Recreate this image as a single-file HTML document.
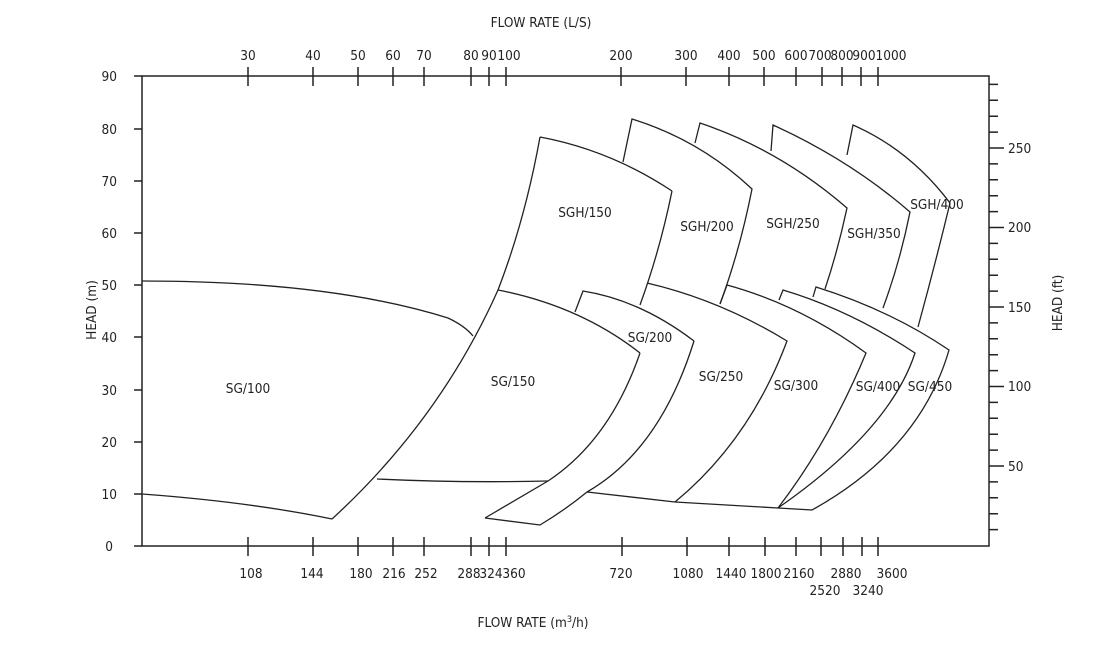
<!DOCTYPE html>
<html><head><style>
html,body{margin:0;padding:0;background:#fff;}
svg{display:block;}
text{font-family:"DejaVu Sans Condensed","Liberation Sans",sans-serif;font-size:13.5px;fill:#222;}
</style></head><body>
<svg width="1100" height="671" viewBox="0 0 1100 671" xmlns="http://www.w3.org/2000/svg">
<g stroke="#222" stroke-width="1.5" fill="none">
<rect x="142" y="76" width="847" height="470"/>
<path d="M134 76H142M134 129H142M134 181H142M134 233H142M134 285H142M134 337H142M134 390H142M134 442H142M134 494H142M134 546H142"/>
<path d="M248 67V86M313 67V86M358 67V86M393 67V86M424 67V86M471 67V86M489 67V86M506 67V86M621 67V86M686 67V86M729 67V86M764 67V86M796 67V86M822 67V86M842 67V86M861 67V86M878 67V86"/>
<path d="M248 537V556M313 537V556M358 537V556M393 537V556M424 537V556M471 537V556M489 537V556M506 537V556M622 537V556M687 537V556M729 537V556M765 537V556M796 537V556M821 537V556M843 537V556M862 537V556M878 537V556"/>
<path d="M989 84.4H998M989 100.3H998M989 116.2H998M989 132.1H998M989 148H1004M989 163.9H998M989 179.8H998M989 195.7H998M989 211.6H998M989 227.5H1004M989 243.4H998M989 259.3H998M989 275.2H998M989 291.1H998M989 307H1004M989 322.9H998M989 338.8H998M989 354.7H998M989 370.6H998M989 386.5H1004M989 402.4H998M989 418.3H998M989 434.2H998M989 450.1H998M989 466H1004M989 481.9H998M989 497.8H998M989 513.7H998M989 529.6H998"/>
</g>
<g stroke="#222" stroke-width="1.3" fill="none">
<path d="M142 281 Q330 281 448 318 Q465 326 473 336"/>
<path d="M142 494 Q250 502 332 519"/>
<path d="M332 519 Q440 420 498 290 Q525 220 540 137"/>
<path d="M540 137 Q610 150 672 191"/>
<path d="M672 191 Q660 250 640 305"/>
<path d="M498 290 Q580 306 640 353"/>
<path d="M640 353 Q610 440 548 481 L485 518"/>
<path d="M377 479 Q460 483 548 481"/>
<path d="M575 312 L583 291 Q640 300 694 341"/>
<path d="M694 341 Q660 450 587 492 Q565 510 540 525 L485 518"/>
<path d="M587 492 L675 502"/>
<path d="M623 162 L632 119 Q700 140 752 189 Q740 250 720 304"/>
<path d="M647 283 Q720 300 787 341 Q750 440 675 502"/>
<path d="M675 502 L778 508 L812 510"/>
<path d="M695 143 L700 123 Q780 150 847 208 Q838 250 825 289"/>
<path d="M720 304 L727 285 Q800 305 866 353 Q830 440 778 508"/>
<path d="M771 151 L773 125 Q850 160 910 212 Q900 262 883 308"/>
<path d="M779 300 L783 290 Q850 310 915 353 Q890 430 778 508"/>
<path d="M813 297 L816 287 Q890 310 949 350 Q920 450 812 510"/>
<path d="M847 155 L853 125 Q910 150 950 203 Q935 265 918 327"/>
</g>
<g text-anchor="end">
<text x="117" y="81">90</text><text x="117" y="134">80</text><text x="117" y="186">70</text><text x="117" y="238">60</text><text x="117" y="290">50</text><text x="117" y="342">40</text><text x="117" y="395">30</text><text x="117" y="447">20</text><text x="117" y="499">10</text><text x="113" y="551">0</text>
</g>
<g>
<text x="1008" y="153">250</text><text x="1008" y="232">200</text><text x="1008" y="312">150</text><text x="1008" y="391">100</text><text x="1008" y="471">50</text>
</g>
<g text-anchor="middle">
<text x="248" y="60">30</text><text x="313" y="60">40</text><text x="358" y="60">50</text><text x="393" y="60">60</text><text x="424" y="60">70</text><text x="471" y="60">80</text><text x="489" y="60">90</text><text x="509" y="60">100</text><text x="621" y="60">200</text><text x="686" y="60">300</text><text x="729" y="60">400</text><text x="764" y="60">500</text><text x="796" y="60">600</text><text x="820" y="60">700</text><text x="842" y="60">800</text><text x="864" y="60">900</text><text x="891" y="60">1000</text>
<text x="541" y="27">FLOW RATE (L/S)</text>
</g>
<g text-anchor="middle">
<text x="251" y="578">108</text><text x="312" y="578">144</text><text x="361" y="578">180</text><text x="394" y="578">216</text><text x="426" y="578">252</text><text x="469" y="578">288</text><text x="491" y="578">324</text><text x="514" y="578">360</text><text x="621" y="578">720</text><text x="688" y="578">1080</text><text x="731" y="578">1440</text><text x="766" y="578">1800</text><text x="799" y="578">2160</text><text x="846" y="578">2880</text><text x="892" y="578">3600</text>
<text x="825" y="595">2520</text><text x="868" y="595">3240</text>
<text x="533" y="627">FLOW RATE (m<tspan dy="-5" font-size="9">3</tspan><tspan dy="5">/h)</tspan></text>
</g>
<text transform="translate(96,310) rotate(-90)" text-anchor="middle">HEAD (m)</text>
<text transform="translate(1062,303) rotate(-90)" text-anchor="middle">HEAD (ft)</text>
<g text-anchor="middle">
<text x="248" y="393">SG/100</text>
<text x="585" y="217">SGH/150</text>
<text x="513" y="386">SG/150</text>
<text x="650" y="342">SG/200</text>
<text x="707" y="231">SGH/200</text>
<text x="793" y="228">SGH/250</text>
<text x="874" y="238">SGH/350</text>
<text x="937" y="209">SGH/400</text>
<text x="721" y="381">SG/250</text>
<text x="796" y="390">SG/300</text>
<text x="878" y="391">SG/400</text>
<text x="930" y="391">SG/450</text>
</g>
</svg>
</body></html>
